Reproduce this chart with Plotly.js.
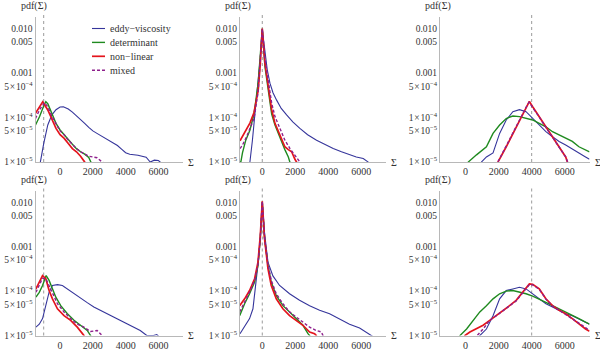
<html lang="en">
  <head>
    <meta charset="UTF-8" />
    <title>pdf of Sigma</title>
    <script src="https://cdn.plot.ly/plotly-3.0.1.min.js"></script>
  </head>
  <body style="margin:0">
    <div id="chart" style="width: 600px; height: 350px;"></div>
    <script>
      // series names / colours (legend in the first panel)
      const seriesNames = ['eddy\u2212viscosity', 'determinant', 'non\u2212linear', 'mixed'];
      const seriesColors = ['#35359b', '#1f8a1f', '#e4141c', '#8e1f8c'];

      // dashed reference line of each column
      const refLines = [-1000, 0, 4000];

      const xTicks = [0, 2000, 4000, 6000];
      const yTicks = [0.01, 0.005, 0.001, 5e-4, 1e-4, 5e-5, 1e-5];
      const yTickText = ['0.010', '0.005', '0.001',
                         '5\u200a\u00d7\u200a10<sup>\u22124</sup>', '1\u200a\u00d7\u200a10<sup>\u22124</sup>',
                         '5\u200a\u00d7\u200a10<sup>\u22125</sup>', '1\u200a\u00d7\u200a10<sup>\u22125</sup>'];

      // top row, left panel  [Sigma, pdf]
      const t1Eddy = [[-1250, 8e-6], [-1000, 2.6e-5], [-750, 6.8e-5], [-500, 1.15e-4], [-250, 1.5e-4], [0, 1.72e-4],
        [200, 1.75e-4], [500, 1.55e-4], [750, 1.32e-4], [1000, 1.1e-4], [1250, 9.1e-5], [1500, 7.4e-5], [1750, 6.0e-5],
        [2000, 5.0e-5], [2250, 4.4e-5], [2500, 3.9e-5], [2750, 3.5e-5], [3000, 3.1e-5], [3250, 2.7e-5], [3500, 2.35e-5],
        [3750, 1.95e-5], [4000, 1.62e-5], [4250, 1.5e-5], [4500, 1.48e-5], [4750, 1.42e-5], [5000, 1.35e-5],
        [5250, 1.28e-5], [5500, 1.0e-5], [5750, 1.1e-5], [6000, 1.08e-5], [6250, 9e-6]];
      const t1Det = [[-1500, 6.8e-5], [-1250, 1.05e-4], [-1000, 1.82e-4], [-870, 2.26e-4], [-750, 2.05e-4],
        [-500, 1.24e-4], [-250, 7.4e-5], [0, 5.25e-5], [250, 4.2e-5], [500, 3.2e-5], [750, 2.5e-5], [1000, 2.0e-5],
        [1250, 1.7e-5], [1500, 1.5e-5], [1750, 1.26e-5], [1900, 1.0e-5], [2000, 8e-6]];
      const t1NonLin = [[-1500, 1.24e-4], [-1250, 1.75e-4], [-1060, 2.26e-4], [-750, 1.48e-4], [-500, 8.8e-5],
        [-250, 5.7e-5], [0, 4.1e-5], [250, 3.4e-5], [500, 2.6e-5], [750, 2.0e-5], [1000, 1.7e-5], [1250, 1.35e-5],
        [1500, 1.0e-5], [1600, 8e-6]];
      const t1Mixed = [[-1500, 9.5e-5], [-1250, 1.5e-4], [-950, 2.15e-4], [-750, 1.75e-4], [-500, 1.07e-4],
        [-250, 7.1e-5], [0, 5.0e-5], [250, 4.1e-5], [500, 3.1e-5], [750, 2.5e-5], [1000, 2.0e-5], [1250, 1.7e-5],
        [1500, 1.5e-5], [1750, 1.35e-5], [2000, 1.3e-5], [2250, 1.25e-5], [2500, 1.05e-5], [2750, 9e-6]];

      // top row, middle panel
      const t2Eddy = [[-800, 8e-6], [-750, 1.0e-5], [-600, 3.0e-5], [-500, 7.4e-5], [-375, 1.8e-4], [-250, 5.0e-4],
        [-120, 2.2e-3], [0, 9.5e-3], [80, 5.0e-3], [160, 3.0e-3], [300, 1.2e-3], [465, 5.9e-4], [650, 3.6e-4],
        [870, 2.46e-4], [1150, 1.6e-4], [1475, 1.15e-4], [1850, 8.0e-5], [2280, 5.7e-5], [2750, 4.1e-5],
        [3290, 3.1e-5], [3800, 2.5e-5], [4300, 2.0e-5], [4800, 1.7e-5], [5310, 1.45e-5], [5700, 1.3e-5],
        [6120, 1.2e-5], [6420, 1.0e-5], [6550, 8e-6]];
      const t2Det = [[-1450, 1.0e-5], [-1300, 1.0e-5], [-1200, 1.6e-5], [-1000, 3.1e-5], [-750, 5.2e-5],
        [-500, 1.2e-4], [-250, 5.9e-4], [-120, 2.7e-3], [0, 9.8e-3], [160, 1.4e-3], [365, 4.2e-4], [570, 1.2e-4],
        [770, 6.8e-5], [970, 4.4e-5], [1170, 2.9e-5], [1370, 1.9e-5], [1580, 1.3e-5], [1680, 1.0e-5], [1750, 8e-6]];
      const t2NonLin = [[-1350, 3.0e-5], [-1250, 3.5e-5], [-1000, 5.0e-5], [-750, 7.5e-5], [-500, 1.3e-4],
        [-250, 4.0e-4], [-125, 1.5e-3], [0, 1.0e-2], [160, 1.66e-3], [365, 4.9e-4], [570, 1.5e-4], [770, 7.4e-5],
        [970, 4.8e-5], [1170, 3.1e-5], [1370, 2.2e-5], [1580, 1.9e-5], [1780, 1.7e-5], [1980, 1.15e-5],
        [2080, 1.0e-5], [2150, 8e-6]];
      const t2Mixed = [[-1350, 2.0e-5], [-1200, 2.4e-5], [-950, 3.7e-5], [-750, 5.7e-5], [-500, 9.5e-5],
        [-250, 3.8e-4], [-120, 1.8e-3], [0, 9.8e-3], [160, 2.1e-3], [365, 5.9e-4], [570, 2.1e-4], [770, 1.05e-4],
        [1070, 5.7e-5], [1370, 3.1e-5], [1680, 2.0e-5], [1980, 1.45e-5], [2280, 1.0e-5], [2350, 8e-6]];

      // top row, right panel
      const t3Eddy = [[900, 8e-6], [960, 1.0e-5], [1260, 1.3e-5], [1660, 1.6e-5], [2060, 4.4e-5], [2460, 8.8e-5],
        [2860, 1.35e-4], [3260, 1.5e-4], [3660, 1.35e-4], [4060, 9.5e-5], [4460, 6.8e-5], [4860, 4.8e-5],
        [5260, 3.7e-5], [5660, 2.9e-5], [6060, 2.4e-5], [6460, 2.0e-5], [6860, 1.6e-5], [7260, 1.3e-5], [7500, 1.15e-5]];
      const t3Det = [[100, 8e-6], [160, 1.0e-5], [660, 1.45e-5], [1260, 2.2e-5], [1660, 4.4e-5], [2060, 6.8e-5],
        [2460, 9.5e-5], [2860, 1.08e-4], [3260, 1.05e-4], [3660, 9.5e-5], [4060, 8.8e-5], [4460, 7.4e-5],
        [4860, 6.2e-5], [5260, 4.8e-5], [5660, 4.0e-5], [6060, 3.4e-5], [6460, 2.9e-5], [6860, 2.2e-5],
        [7260, 1.85e-5], [7500, 1.7e-5]];
      const t3NonLin = [[1900, 8e-6], [1960, 1.0e-5], [2460, 2.2e-5], [2860, 4.4e-5], [3260, 8.8e-5], [3660, 1.75e-4],
        [3860, 2.3e-4], [4060, 1.75e-4], [4460, 1.05e-4], [4860, 6.2e-5], [5260, 3.7e-5], [5660, 2.2e-5],
        [6060, 1.3e-5], [6160, 1.0e-5], [6250, 8e-6]];
      const t3Mixed = [[1850, 8e-6], [1950, 1.0e-5], [2460, 2.3e-5], [2860, 4.6e-5], [3260, 9.0e-5], [3660, 1.7e-4],
        [3840, 2.2e-4], [4060, 1.7e-4], [4460, 1.02e-4], [4860, 6.0e-5], [5260, 3.6e-5], [5660, 2.2e-5],
        [6060, 1.3e-5], [6180, 1.0e-5], [6250, 8e-6]];

      // bottom row, left panel
      const b1Eddy = [[-1475, 1.54e-5], [-1270, 1.8e-5], [-1070, 2.4e-5], [-870, 4.7e-5], [-670, 9.5e-5],
        [-465, 1.34e-4], [-160, 1.4e-4], [140, 1.34e-4], [445, 1.12e-4], [850, 8.7e-5], [1250, 6.7e-5],
        [1655, 5.5e-5], [2060, 4.4e-5], [2465, 3.7e-5], [2870, 3.1e-5], [3270, 2.6e-5], [3675, 2.2e-5],
        [4080, 1.8e-5], [4485, 1.54e-5], [4890, 1.3e-5], [5290, 1.0e-5], [5700, 1.0e-5], [5900, 1.05e-5], [6100, 9e-6]];
      const b1Det = [[-1475, 7.3e-5], [-1270, 9.4e-5], [-1070, 1.34e-4], [-850, 2.24e-4], [-670, 1.74e-4],
        [-465, 1.12e-4], [-260, 7.3e-5], [40, 4.7e-5], [445, 3.1e-5], [850, 2.2e-5], [1250, 1.7e-5], [1655, 1.3e-5],
        [1860, 1.0e-5], [1950, 8e-6]];
      const b1NonLin = [[-1475, 1.12e-4], [-1270, 1.58e-4], [-1070, 2.24e-4], [-870, 1.9e-4], [-670, 1.03e-4],
        [-465, 6.7e-5], [-160, 4.0e-5], [240, 2.8e-5], [645, 2.2e-5], [1050, 1.54e-5], [1355, 1.1e-5],
        [1455, 1.0e-5], [1550, 8e-6]];
      const b1Mixed = [[-1475, 9.4e-5], [-1270, 1.34e-4], [-1070, 1.95e-4], [-870, 1.9e-4], [-670, 1.34e-4],
        [-465, 8.7e-5], [-160, 5.2e-5], [240, 3.4e-5], [645, 2.4e-5], [1050, 1.8e-5], [1455, 1.54e-5],
        [1860, 1.23e-5], [2260, 1.3e-5], [2565, 1.0e-5], [2700, 8e-6]];

      // bottom row, middle panel
      const b2Eddy = [[-1350, 1.1e-5], [-1170, 1.4e-5], [-970, 1.8e-5], [-770, 2.4e-5], [-565, 4.0e-5],
        [-365, 1.6e-4], [-200, 6.3e-4], [-100, 2.1e-3], [0, 1.0e-2], [140, 2.0e-3], [345, 4.5e-4], [645, 2.2e-4],
        [1050, 1.34e-4], [1655, 8.7e-5], [2260, 6.2e-5], [2870, 4.7e-5], [3475, 3.7e-5], [4080, 3.1e-5],
        [4690, 2.4e-5], [5290, 1.8e-5], [5900, 1.47e-5], [6300, 1.2e-5], [6600, 1.0e-5], [6800, 9e-6]];
      const b2Det = [[-1370, 2.8e-5], [-1070, 5.2e-5], [-770, 8.7e-5], [-465, 1.6e-4], [-260, 3.8e-4],
        [-120, 1.5e-3], [0, 1.0e-2], [140, 1.5e-3], [345, 3.8e-4], [545, 1.6e-4], [850, 7.9e-5], [1250, 4.7e-5],
        [1655, 3.4e-5], [2060, 2.4e-5], [2465, 1.7e-5], [2770, 1.1e-5], [2870, 1.0e-5], [2950, 8e-6]];
      const b2NonLin = [[-1370, 4.7e-5], [-1070, 6.7e-5], [-770, 1.03e-4], [-465, 1.9e-4], [-260, 4.5e-4],
        [-120, 1.78e-3], [0, 1.05e-2], [140, 1.5e-3], [345, 3.2e-4], [545, 1.34e-4], [850, 6.7e-5], [1250, 4.0e-5],
        [1655, 2.8e-5], [2060, 2.2e-5], [2465, 1.7e-5], [2870, 1.2e-5], [3170, 1.1e-5], [3270, 1.0e-5], [3350, 8e-6]];
      const b2Mixed = [[-1370, 3.4e-5], [-1070, 5.6e-5], [-770, 9.5e-5], [-465, 1.74e-4], [-260, 4.1e-4],
        [-120, 1.6e-3], [0, 1.05e-2], [140, 1.6e-3], [345, 4.1e-4], [545, 1.74e-4], [850, 8.7e-5], [1250, 5.2e-5],
        [1655, 3.4e-5], [2060, 2.6e-5], [2465, 2.0e-5], [2870, 1.54e-5], [3270, 1.3e-5], [3575, 1.2e-5],
        [3680, 1.0e-5], [3750, 8e-6]];

      // bottom row, right panel
      const b3Eddy = [[800, 8e-6], [860, 1.0e-5], [1260, 1.4e-5], [1660, 2.8e-5], [2060, 6.7e-5], [2460, 1.03e-4],
        [2860, 1.12e-4], [3260, 1.22e-4], [3660, 1.12e-4], [4060, 8.7e-5], [4460, 6.7e-5], [4860, 5.2e-5],
        [5260, 4.4e-5], [5660, 3.7e-5], [6060, 3.1e-5], [6460, 2.8e-5], [6860, 2.4e-5], [7260, 2.0e-5], [7500, 1.8e-5]];
      const b3Det = [[-400, 8e-6], [-340, 1.0e-5], [60, 1.4e-5], [460, 2.2e-5], [860, 3.4e-5], [1260, 4.7e-5],
        [1660, 6.7e-5], [2060, 8.7e-5], [2460, 1.0e-4], [2860, 1.03e-4], [3260, 9.5e-5], [3660, 8.7e-5],
        [4060, 7.7e-5], [4460, 6.7e-5], [4860, 5.6e-5], [5260, 4.7e-5], [5660, 4.0e-5], [6060, 3.4e-5],
        [6460, 2.8e-5], [6860, 2.4e-5], [7260, 2.0e-5], [7500, 1.8e-5]];
      const b3NonLin = [[-100, 8e-6], [-40, 1.0e-5], [260, 1.2e-5], [660, 1.4e-5], [1060, 1.7e-5], [1460, 2.2e-5],
        [1860, 2.8e-5], [2260, 3.7e-5], [2660, 4.7e-5], [3060, 6.2e-5], [3460, 9.5e-5], [3860, 1.45e-4],
        [4060, 1.42e-4], [4460, 1.12e-4], [4860, 6.7e-5], [5260, 4.7e-5], [5660, 3.7e-5], [6060, 3.1e-5],
        [6460, 2.4e-5], [6860, 1.8e-5], [7260, 1.4e-5], [7500, 1.25e-5]];
      const b3Mixed = [[600, 8e-6], [700, 1.0e-5], [1060, 1.4e-5], [1460, 2.2e-5], [1860, 2.8e-5], [2260, 3.6e-5],
        [2660, 4.6e-5], [3060, 6.0e-5], [3460, 9.2e-5], [3860, 1.4e-4], [4060, 1.38e-4], [4460, 1.1e-4],
        [4860, 6.6e-5], [5260, 4.6e-5], [5660, 3.7e-5], [6060, 3.0e-5], [6460, 2.4e-5], [6860, 1.9e-5],
        [7260, 1.5e-5], [7500, 1.3e-5]];

      const panels = [
        [t1Eddy, t1Det, t1NonLin, t1Mixed],
        [t2Eddy, t2Det, t2NonLin, t2Mixed],
        [t3Eddy, t3Det, t3NonLin, t3Mixed],
        [b1Eddy, b1Det, b1NonLin, b1Mixed],
        [b2Eddy, b2Det, b2NonLin, b2Mixed],
        [b3Eddy, b3Det, b3NonLin, b3Mixed]
      ];

      // layout bits (pixels -> paper fractions)
      const W = 600, H = 350;
      const colPx = [[35.5, 183], [240, 386], [440, 589.5]];
      const colRange = [[-1500, 7500], [-1350, 7500], [-1550, 7500]];
      const rowDomain = [[0.5371, 0.9503], [0.0414, 0.4537]];
      const lineWidths = [1.1, 1.4, 1.7, 1.4];
      const serif = '"Liberation Serif", "Times New Roman", serif';

      const traces = [];
      const layout = {
        width: W, height: H,
        margin: { l: 0, r: 0, t: 0, b: 0 },
        paper_bgcolor: 'white', plot_bgcolor: 'white',
        font: { family: serif, size: 10, color: '#333' },
        showlegend: false,
        shapes: [], annotations: []
      };

      panels.forEach((series, p) => {
        const col = p % 3, row = Math.floor(p / 3);
        const k = p === 0 ? '' : String(p + 1);
        layout['xaxis' + k] = {
          domain: [colPx[col][0] / W, colPx[col][1] / W],
          range: colRange[col],
          anchor: 'y' + k,
          showline: true, linecolor: '#b8b8b8', linewidth: 1,
          showgrid: false, zeroline: false,
          tickvals: xTicks, ticks: '', tickfont: { size: 10, color: '#333' }
        };
        layout['yaxis' + k] = {
          domain: rowDomain[row],
          type: 'log', range: [-5, -1.75],
          anchor: 'x' + k,
          showline: true, linecolor: '#b8b8b8', linewidth: 1,
          showgrid: false, zeroline: false,
          tickvals: yTicks, ticktext: yTickText, ticks: '',
          tickfont: { size: 9.5, color: '#333' }
        };

        series.forEach((pts, s) => {
          traces.push({
            x: pts.map(d => d[0]),
            y: pts.map(d => d[1]),
            type: 'scatter', mode: 'lines',
            xaxis: 'x' + k, yaxis: 'y' + k,
            line: { color: seriesColors[s], width: lineWidths[s], dash: s === 3 ? '3px,2px' : 'solid' },
            name: seriesNames[s], hoverinfo: 'skip'
          });
        });

        // dashed reference line
        layout.shapes.push({
          type: 'line', layer: 'below',
          xref: 'x' + k, x0: refLines[col], x1: refLines[col],
          yref: 'y' + k + ' domain', y0: 0, y1: 1.02,
          line: { color: '#9a9a9a', width: 1, dash: '3px,3px' }
        });

        // axis labels at the ends of the axes
        layout.annotations.push({
          text: 'pdf(\u03a3)', showarrow: false,
          xref: 'x' + k + ' domain', x: 0, xanchor: 'center', xshift: -2,
          yref: 'y' + k + ' domain', y: 1, yanchor: 'bottom', yshift: 3,
          font: { size: 10, color: '#333' }
        });
        layout.annotations.push({
          text: '\u03a3', showarrow: false,
          xref: 'x' + k + ' domain', x: 1, xanchor: 'left', xshift: 3,
          yref: 'y' + k + ' domain', y: 0, yanchor: 'middle',
          font: { size: 10, color: '#333' }
        });
      });

      // legend inside the first panel
      seriesNames.forEach((name, s) => {
        const yPx = 28.5 + s * 13.9;
        layout.shapes.push({
          type: 'line', xref: 'paper', yref: 'paper',
          x0: 92 / W, x1: 105 / W, y0: 1 - yPx / H, y1: 1 - yPx / H,
          line: { color: seriesColors[s], width: lineWidths[s], dash: s === 3 ? '3px,2px' : 'solid' }
        });
        layout.annotations.push({
          text: name, showarrow: false,
          xref: 'paper', x: 108 / W, xanchor: 'left',
          yref: 'paper', y: 1 - yPx / H, yanchor: 'middle',
          font: { size: 10, color: '#333' }
        });
      });

      Plotly.newPlot('chart', traces, layout, { displayModeBar: false, staticPlot: true });
    </script>
  </body>
</html>
